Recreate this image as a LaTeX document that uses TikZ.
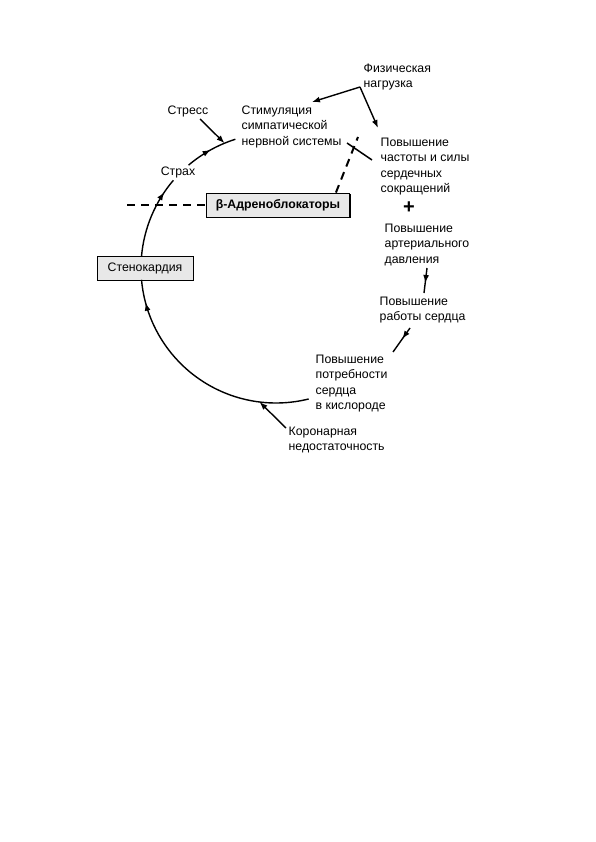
\documentclass[tikz,border=0pt]{standalone}
\usepackage{fontspec}
\setmainfont{Liberation Sans}
\usetikzlibrary{arrows.meta,decorations.markings,shadows,calc}

\begin{document}
\begin{tikzpicture}[x=1pt,y=-1pt,line width=1.4pt,
    txt/.style = {anchor=north west,inner sep=0pt,align=left,
                  font=\fontsize{12.3}{15.5}\selectfont},
    box/.style = {draw,line width=0.9pt,fill=gray!18,minimum height=24pt,
                  inner sep=0pt,font=\fontsize{12.3}{14}\selectfont},
    tip/.style = {-{Latex[length=8pt,width=6pt]}},
    midarrow/.style = {postaction={decorate},
                  decoration={markings,mark=at position #1 with
                  {\arrow{Latex[length=8pt,width=6pt]}}}},
    block/.style = {dash pattern=on 8pt off 6pt,line width=2pt}]
  \useasboundingbox (0,0) rectangle (596,842);
  % centre of the cycle
  \coordinate (c) at (276,268);
  % Texts
  \node[txt] (phys) at (363,63) {Физическая\\нагрузка};
  \node[txt] (stress) at (167,105) {Стресс};
  \node[txt] (stim) at (241,105) {Стимуляция\\симпатической\\нервной системы};
  \node[txt] (hr) at (380,137) {Повышение\\частоты и силы\\сердечных\\сокращений};
  \node[font=\fontsize{20}{20}\selectfont\bfseries] (plus) at (409,208) {+};
  \node[txt] (bp) at (384,223) {Повышение\\артериального\\давления};
  \node[txt] (work) at (379,296) {Повышение\\работы сердца};
  \node[txt] (demand) at (315,354) {Повышение\\потребности\\сердца\\в кислороде};
  \node[txt] (coronary) at (288,426) {Коронарная\\недостаточность};
  \node[font=\fontsize{12.3}{14}\selectfont] (fear) at (178,172) {Страх};
  % Boxes
  \node[box,minimum width=96pt] (angina) at (145,268) {Стенокардия};
  \node[box,minimum width=143pt,font=\fontsize{12.3}{14}\selectfont\bfseries,
        drop shadow={shadow xshift=1.4pt,shadow yshift=-1.4pt,fill=black,opacity=1}]
        (blocker) at (278,205) {β-Адреноблокаторы};
  % Cycle
  \draw[midarrow=0.9] ($(c)+(76:135)$) arc[start angle=76,end angle=175,radius=135];
  \draw[midarrow=0.82] ($(c)+(185:135)$) arc[start angle=185,end angle=220.5,radius=135];
  \draw[midarrow=0.5] ($(c)+(229.6:135)$) arc[start angle=229.6,end angle=252.5,radius=135];
  % Side arrows
  \coordinate (fork) at (360,87);
  \coordinate (s1) at (200,119);
  \coordinate (k1) at (286,428);
  \draw[tip] (fork) -- (312,102);
  \draw[tip] (fork) -- (378,128);
  \draw[tip] (s1) -- ($(c)+(247.6:135)$);
  \draw[tip] (k1) -- ($(c)+(97:135)$);
  \draw[midarrow=0.6] (427,268) -- (424,293);
  \draw[midarrow=0.45] (410,328) -- (393,352);
  % Blocker
  \coordinate (blk) at (127,205);
  \coordinate (inh) at (358,137);
  \draw[block] (blk) -- (blocker.west);
  \draw[block] ([xshift=-14pt]blocker.north east) -- (inh);
  \draw[line width=1.5pt] (347,143) -- (372,160);
\end{tikzpicture}
\end{document}
